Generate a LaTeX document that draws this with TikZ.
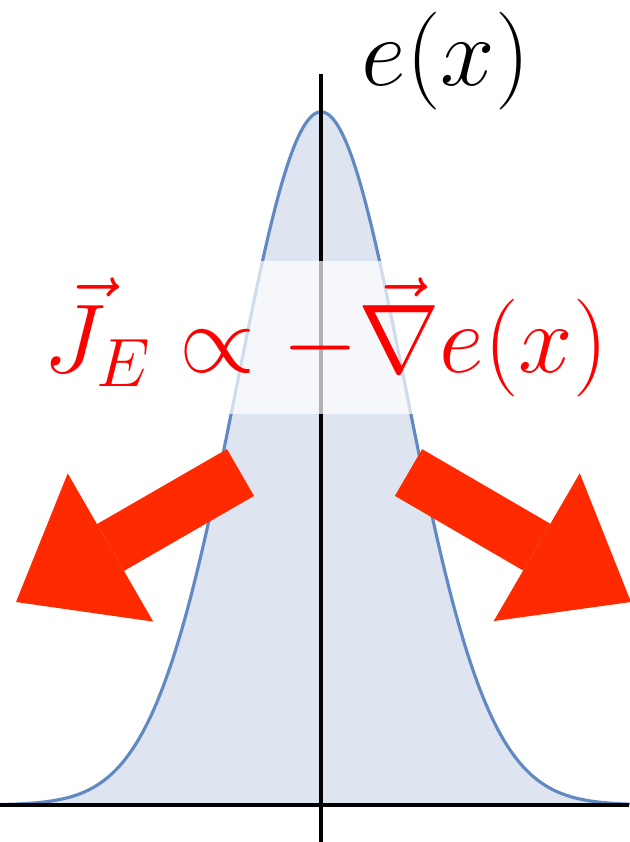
\RequirePackage{fix-cm}
\documentclass[tikz,border=0pt]{standalone}
\usepackage{amsmath}
\usetikzlibrary{arrows.meta}
\definecolor{curveblue}{RGB}{98,138,194}
\definecolor{curvefill}{RGB}{222,229,240}
\definecolor{fluxred}{RGB}{255,42,0}
\tikzset{
    axis/.style={line width=1.4pt, black},
    profile/.style={draw=curveblue, line width=0.9pt, fill=curvefill},
    bigmath/.style={inner sep=0pt, font=\fontsize{27.8}{32}\selectfont},
    flux/.style={draw=fluxred, line width=0.54cm, -{Triangle[length=1.09cm, width=1.71cm, line width=0pt]}}
}

\begin{document}
\begin{tikzpicture}[x=0.01cm, y=-0.01cm]
    \useasboundingbox (0,0) rectangle (629,842);

    % gaussian energy profile, \x in units of sigma
    \draw[profile] (0,805) -- plot[domain=-3.821:3.667, samples=150, smooth] ({321+84*\x}, {805-693*exp(-0.5*\x*\x)}) -- (629,805);

    % axes
    \coordinate (xl) at (0,805);
    \coordinate (xr) at (629,805);
    \coordinate (yb) at (321,842);
    \coordinate (yt) at (321,74);
    \draw[axis] (xl) -- (xr);
    \draw[axis] (yb) -- (yt);

    % translucent band behind the formula
    \fill[white, opacity=0.7] (30,261) rectangle (620,414);

    \node[bigmath, anchor=base west] (elabel) at (361,85) {$e(x)$};
    \node[bigmath, text=red, anchor=base west] (law) at (43,372) {$\vec{J}_E \propto -\vec{\nabla} e(x)$};

    % heat flows away from the peak
    \coordinate (ltail) at (240.5,472.5);
    \coordinate (ltip) at (16,602);
    \coordinate (rtail) at (408.5,472.5);
    \coordinate (rtip) at (631,602);
    \draw[flux] (ltail) -- (ltip);
    \draw[flux] (rtail) -- (rtip);
\end{tikzpicture}
\end{document}
